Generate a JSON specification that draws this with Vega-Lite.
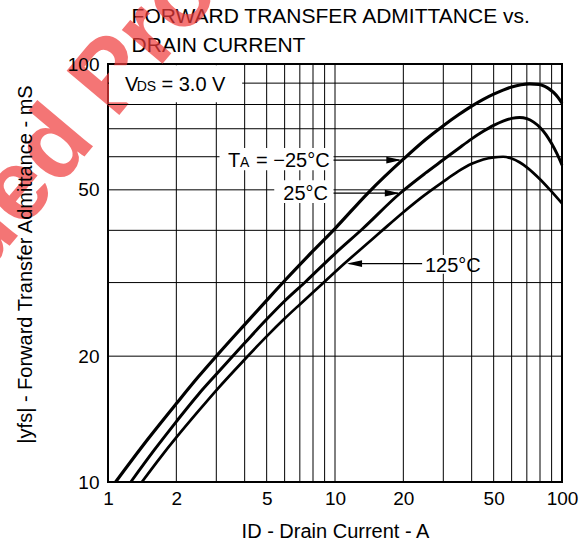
{
  "$schema": "https://vega.github.io/schema/vega-lite/v6.json",
  "width": 454,
  "height": 418,
  "autosize": {"type": "none"},
  "padding": {"left": 108, "top": 64, "right": 25, "bottom": 64},
  "background": "white",
  "config": {
    "view": {"stroke": "black", "strokeWidth": 2},
    "font": "Liberation Sans"
  },
  "datasets": {
    "curves": [
      {"series": "-25", "x": 1.08, "y": 10},
      {"series": "-25", "x": 1.5, "y": 12.67},
      {"series": "-25", "x": 2, "y": 15.4},
      {"series": "-25", "x": 2.5, "y": 17.85},
      {"series": "-25", "x": 3, "y": 20},
      {"series": "-25", "x": 4, "y": 23.8},
      {"series": "-25", "x": 5, "y": 27.2},
      {"series": "-25", "x": 6, "y": 30.3},
      {"series": "-25", "x": 8, "y": 35.7},
      {"series": "-25", "x": 10, "y": 40.4},
      {"series": "-25", "x": 14, "y": 49.2},
      {"series": "-25", "x": 20, "y": 59.2},
      {"series": "-25", "x": 25, "y": 65.9},
      {"series": "-25", "x": 30, "y": 71.2},
      {"series": "-25", "x": 35, "y": 75.6},
      {"series": "-25", "x": 40, "y": 79.3},
      {"series": "-25", "x": 45, "y": 82.3},
      {"series": "-25", "x": 50, "y": 84.7},
      {"series": "-25", "x": 55, "y": 86.6},
      {"series": "-25", "x": 60, "y": 88.1},
      {"series": "-25", "x": 66, "y": 89.2},
      {"series": "-25", "x": 72, "y": 89.6},
      {"series": "-25", "x": 79, "y": 89.4},
      {"series": "-25", "x": 84, "y": 88.4},
      {"series": "-25", "x": 88, "y": 87.1},
      {"series": "-25", "x": 92, "y": 85.4},
      {"series": "-25", "x": 96, "y": 83.2},
      {"series": "-25", "x": 100, "y": 80.6},
      {"series": "25", "x": 1.26, "y": 10},
      {"series": "25", "x": 1.6, "y": 11.93},
      {"series": "25", "x": 2, "y": 13.95},
      {"series": "25", "x": 2.5, "y": 16.2},
      {"series": "25", "x": 3, "y": 18.1},
      {"series": "25", "x": 4, "y": 21.5},
      {"series": "25", "x": 5, "y": 24.5},
      {"series": "25", "x": 6, "y": 27.1},
      {"series": "25", "x": 7.4, "y": 30.1},
      {"series": "25", "x": 10, "y": 35.2},
      {"series": "25", "x": 13.2, "y": 40.3},
      {"series": "25", "x": 19.3, "y": 49},
      {"series": "25", "x": 25, "y": 54.8},
      {"series": "25", "x": 30, "y": 59},
      {"series": "25", "x": 35, "y": 62.8},
      {"series": "25", "x": 40, "y": 66.2},
      {"series": "25", "x": 45, "y": 69},
      {"series": "25", "x": 50, "y": 71.3},
      {"series": "25", "x": 55, "y": 73},
      {"series": "25", "x": 60, "y": 74.1},
      {"series": "25", "x": 65, "y": 74.5},
      {"series": "25", "x": 70, "y": 74},
      {"series": "25", "x": 75, "y": 72.6},
      {"series": "25", "x": 80, "y": 70.5},
      {"series": "25", "x": 85, "y": 67.8},
      {"series": "25", "x": 90, "y": 64.5},
      {"series": "25", "x": 95, "y": 61},
      {"series": "25", "x": 100, "y": 57.3},
      {"series": "125", "x": 1.41, "y": 10},
      {"series": "125", "x": 1.7, "y": 11.44},
      {"series": "125", "x": 2, "y": 12.78},
      {"series": "125", "x": 2.5, "y": 14.77},
      {"series": "125", "x": 3, "y": 16.57},
      {"series": "125", "x": 4, "y": 19.64},
      {"series": "125", "x": 5, "y": 22.3},
      {"series": "125", "x": 6, "y": 24.6},
      {"series": "125", "x": 7, "y": 26.6},
      {"series": "125", "x": 8.8, "y": 29.8},
      {"series": "125", "x": 11, "y": 33.3},
      {"series": "125", "x": 16, "y": 39.8},
      {"series": "125", "x": 20, "y": 44.2},
      {"series": "125", "x": 24, "y": 47.9},
      {"series": "125", "x": 30, "y": 52.3},
      {"series": "125", "x": 35, "y": 55.4},
      {"series": "125", "x": 40, "y": 57.7},
      {"series": "125", "x": 45, "y": 59.1},
      {"series": "125", "x": 50, "y": 59.8},
      {"series": "125", "x": 55, "y": 60},
      {"series": "125", "x": 60, "y": 59.4},
      {"series": "125", "x": 65, "y": 58.2},
      {"series": "125", "x": 70, "y": 56.6},
      {"series": "125", "x": 80, "y": 53},
      {"series": "125", "x": 90, "y": 49.5},
      {"series": "125", "x": 100, "y": 46.4}
    ],
    "vgrid": [
      {"x": 2}, {"x": 3}, {"x": 4}, {"x": 5}, {"x": 6}, {"x": 7}, {"x": 8}, {"x": 9},
      {"x": 10}, {"x": 20}, {"x": 30}, {"x": 40}, {"x": 50}, {"x": 60}, {"x": 70}, {"x": 80}, {"x": 90}
    ],
    "hgrid": [
      {"y": 20}, {"y": 30}, {"y": 40}, {"y": 50}, {"y": 60}, {"y": 70}, {"y": 80}, {"y": 90}
    ],
    "boxes": [
      {"x": 1.01, "x2": 3.9, "y": 81, "y2": 99.3},
      {"x": 3.1, "x2": 9.85, "y": 55.7, "y2": 63},
      {"x": 5.4, "x2": 9.85, "y": 46.5, "y2": 52.7},
      {"x": 24.4, "x2": 39.4, "y": 31.5, "y2": 34.9}
    ],
    "arrows": [
      {"x": 9.85, "x2": 19.2, "y": 58.9},
      {"x": 9.85, "x2": 19.0, "y": 49.1},
      {"x": 11.5, "x2": 24.2, "y": 33.3}
    ],
    "heads": [
      {"x": 19.6, "y": 58.9, "dir": "right"},
      {"x": 19.3, "y": 49.1, "dir": "right"},
      {"x": 11.3, "y": 33.3, "dir": "left"}
    ],
    "bigLeft": [
      {"x": 1.188, "y": 86.3, "label": "V"},
      {"x": 1.72, "y": 86.3, "label": "= 3.0 V"},
      {"x": 3.379, "y": 56.6, "label": "T"},
      {"x": 4.487, "y": 56.6, "label": "= −25°C"},
      {"x": 24.9, "y": 31.8, "label": "125°C"}
    ],
    "bigRight": [
      {"x": 9.31, "y": 47.3, "label": "25°C"}
    ],
    "subs": [
      {"x": 1.338, "y": 86.3, "label": "DS"},
      {"x": 3.815, "y": 56.6, "label": "A"}
    ],
    "titleLines": [
      {"x": 1.27, "y": 125.2, "label": "FORWARD TRANSFER ADMITTANCE vs."},
      {"x": 1.27, "y": 107.1, "label": "DRAIN CURRENT"}
    ],
    "watermark": [
      {"x": 0.2813, "y": 30.85, "label": "ued Product"}
    ]
  },
  "encoding": {
    "x": {
      "field": "x",
      "type": "quantitative",
      "scale": {"type": "log", "domain": [1, 100], "nice": false},
      "axis": {
        "values": [1, 2, 5, 10, 20, 50, 100],
        "labelExpr": "format(datum.value, 'd')",
        "ticks": false,
        "domain": false,
        "grid": false,
        "zindex": 1,
        "labelFont": "Liberation Sans",
        "labelFontSize": 19,
        "labelColor": "black",
        "labelPadding": 7,
        "labelFlush": false,
        "labelOverlap": false,
        "title": "ID - Drain Current - A",
        "titleFont": "Liberation Sans",
        "titleFontSize": 20,
        "titleFontWeight": "normal",
        "titleColor": "black",
        "titleY": 55,
        "titleBaseline": "alphabetic"
      }
    },
    "y": {
      "field": "y",
      "type": "quantitative",
      "scale": {"type": "log", "domain": [10, 100], "nice": false},
      "axis": {
        "values": [10, 20, 50, 100],
        "labelExpr": "format(datum.value, 'd')",
        "ticks": false,
        "domain": false,
        "grid": false,
        "zindex": 1,
        "labelFont": "Liberation Sans",
        "labelFontSize": 19,
        "labelColor": "black",
        "labelPadding": 9,
        "labelFlush": false,
        "labelOverlap": false,
        "title": "|yfs| - Forward Transfer Admittance - mS",
        "titleFont": "Liberation Sans",
        "titleFontSize": 20,
        "titleFontWeight": "normal",
        "titleColor": "black",
        "titleX": -77,
        "titleY": 200,
        "titleAngle": -90,
        "titleAlign": "center",
        "titleBaseline": "alphabetic"
      }
    }
  },
  "layer": [
    {
      "data": {"name": "titleLines"},
      "mark": {"type": "text", "align": "left", "baseline": "alphabetic", "fontSize": 21, "font": "Liberation Sans", "color": "black"},
      "encoding": {"text": {"field": "label"}}
    },
    {
      "data": {"name": "watermark"},
      "mark": {"type": "text", "align": "left", "baseline": "alphabetic", "angle": -50, "fontSize": 100, "fontWeight": "bold", "font": "Liberation Sans", "color": "#f03c3c", "opacity": 0.7},
      "encoding": {"text": {"field": "label"}}
    },
    {
      "data": {"name": "vgrid"},
      "mark": {"type": "rule", "color": "black", "strokeWidth": 1},
      "encoding": {"y": {"value": 0}, "y2": {"value": 418}}
    },
    {
      "data": {"name": "hgrid"},
      "mark": {"type": "rule", "color": "black", "strokeWidth": 1},
      "encoding": {"x": {"value": 0}, "x2": {"value": 454}}
    },
    {
      "data": {"name": "boxes"},
      "mark": {"type": "rect", "fill": "white", "stroke": null},
      "encoding": {"x2": {"field": "x2"}, "y2": {"field": "y2"}}
    },
    {
      "data": {"name": "curves"},
      "mark": {"type": "line", "interpolate": "monotone", "color": "black"},
      "encoding": {
        "detail": {"field": "series", "type": "nominal"},
        "strokeWidth": {
          "field": "series",
          "type": "nominal",
          "scale": {"domain": ["-25", "25", "125"], "range": [3.2, 2.7, 2.7]},
          "legend": null
        }
      }
    },
    {
      "data": {"name": "arrows"},
      "mark": {"type": "rule", "color": "black", "strokeWidth": 1.2},
      "encoding": {"x2": {"field": "x2"}}
    },
    {
      "data": {"name": "heads"},
      "mark": {"type": "point", "filled": true, "color": "black", "opacity": 1, "size": 900, "strokeWidth": 0},
      "encoding": {
        "shape": {
          "field": "dir",
          "type": "nominal",
          "scale": {"domain": ["right", "left"], "range": ["M0,0L-1,-0.22L-1,0.22Z", "M0,0L1,-0.22L1,0.22Z"]},
          "legend": null
        }
      }
    },
    {
      "data": {"name": "bigLeft"},
      "mark": {"type": "text", "align": "left", "baseline": "alphabetic", "fontSize": 20, "font": "Liberation Sans", "color": "black"},
      "encoding": {"text": {"field": "label"}}
    },
    {
      "data": {"name": "bigRight"},
      "mark": {"type": "text", "align": "right", "baseline": "alphabetic", "fontSize": 20, "font": "Liberation Sans", "color": "black"},
      "encoding": {"text": {"field": "label"}}
    },
    {
      "data": {"name": "subs"},
      "mark": {"type": "text", "align": "left", "baseline": "alphabetic", "fontSize": 14, "font": "Liberation Sans", "color": "black"},
      "encoding": {"text": {"field": "label"}}
    }
  ]
}
